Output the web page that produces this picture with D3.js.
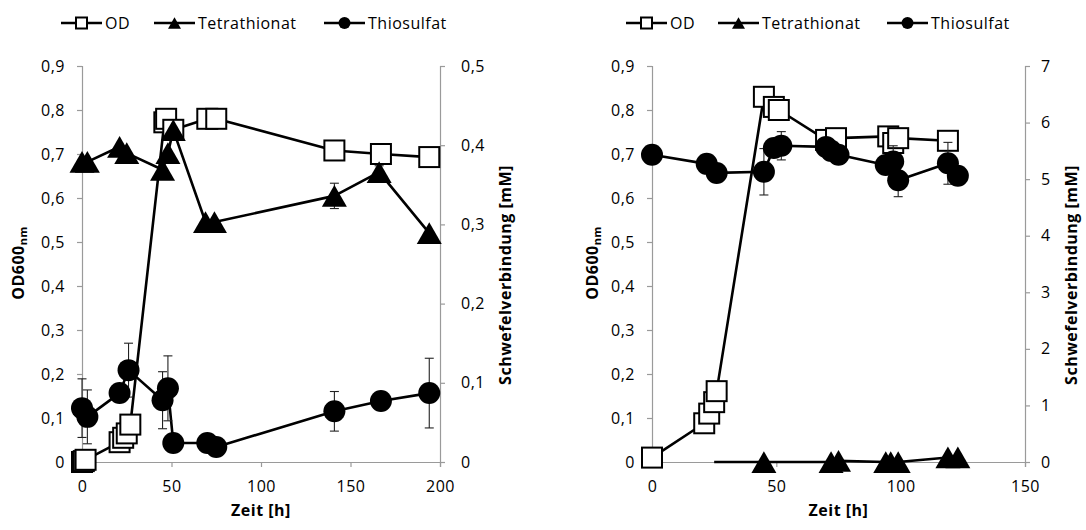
<!DOCTYPE html>
<html>
<head>
<meta charset="utf-8">
<script src="https://cdn.jsdelivr.net/npm/d3@7"></script>
<style>
  html, body { margin: 0; padding: 0; background: #fff; }
  svg { display: block; font-family: "Open Sans", sans-serif; }
</style>
</head>
<body>
<svg id="chart" width="1086" height="530"></svg>
<script>
// ---------------- DATA ----------------
const seriesNames = ["OD", "Tetrathionat", "Thiosulfat"];

// left panel
const xTicksLeft = [0, 50, 100, 150, 200];
const odTicks = [0, 0.1, 0.2, 0.3, 0.4, 0.5, 0.6, 0.7, 0.8, 0.9];
const mmTicksLeft = [0, 0.1, 0.2, 0.3, 0.4, 0.5];

const odLeftT = [0, 1, 2, 21, 23, 25, 27, 46, 47, 51, 70, 75, 141, 167, 194];
const odLeftV = [0.0, 0.002, 0.005, 0.045, 0.055, 0.065, 0.085, 0.772, 0.78, 0.755, 0.78, 0.78, 0.708, 0.70, 0.693];

const tetLeftT = [0, 3, 21, 25, 45, 48, 51, 69, 74, 141, 166, 194];
const tetLeftV = [0.379, 0.379, 0.398, 0.39, 0.369, 0.39, 0.419, 0.303, 0.303, 0.336, 0.366, 0.289];
const tetLeftE = [0, 0, 0, 0, 0, 0, 0, 0, 0, 0.016, 0.008, 0];

const thioLeftT = [0, 3, 21, 26, 45, 48, 51, 70, 75, 141, 167, 194];
const thioLeftV = [0.068, 0.057, 0.087, 0.116, 0.078, 0.093, 0.024, 0.024, 0.019, 0.064, 0.077, 0.087];
const thioLeftE = [0.037, 0.034, 0, 0.034, 0.036, 0.041, 0, 0, 0, 0.025, 0, 0.044];

// right panel
const xTicksRight = [0, 50, 100, 150];
const mmTicksRight = [0, 1, 2, 3, 4, 5, 6, 7];

const odRightT = [0, 21, 23, 25, 26, 45, 49, 51, 70, 74, 95, 97, 99, 119];
const odRightV = [0.01, 0.088, 0.11, 0.136, 0.161, 0.83, 0.807, 0.80, 0.732, 0.736, 0.74, 0.725, 0.736, 0.73];

const tetRightT = [25, 45, 72, 75, 94, 96, 99, 119, 123];
const tetRightV = [0, 0, 0, 0.02, 0, 0, 0, 0.08, 0.08];
const tetRightMarker = [false, true, true, true, true, true, true, true, true];

const thioRightT = [0, 22, 26, 45, 49, 52, 70, 72, 75, 94, 97, 99, 119, 123];
const thioRightV = [5.43, 5.27, 5.11, 5.13, 5.55, 5.59, 5.57, 5.5, 5.43, 5.25, 5.31, 4.98, 5.28, 5.06];
const thioRightE = [0, 0, 0, 0.41, 0, 0.25, 0, 0, 0, 0, 0.28, 0.29, 0.37, 0];

// ---------------- DRAW ----------------
const svg = d3.select("#chart");
const axisColor = "#9a9a9a";
const fmtComma = v => v === 0 ? "0" : d3.format(".1f")(v).replace(".", ",");

function zip(t, v, e, m) {
  return t.map((tt, i) => ({ t: tt, v: v[i], e: e ? e[i] : 0, m: m ? m[i] : true }));
}

function drawPanel(cfg) {
  const g = svg.append("g");
  const x = d3.scaleLinear().domain(cfg.xDomain).range([cfg.x0, cfg.x1]);
  const yL = d3.scaleLinear().domain([0, 0.9]).range([cfg.yBottom, cfg.yTop]);
  const yR = d3.scaleLinear().domain(cfg.rDomain).range([cfg.yBottom, cfg.yTop]);

  // axes
  const ax = g.append("g").attr("class", "axes");
  const xAxis = d3.axisBottom(x).tickValues(cfg.xTicks).tickSize(5).tickFormat(d3.format("d"));
  const gx = ax.append("g").attr("transform", `translate(0,${cfg.yBottom})`).call(xAxis);
  const lAxis = d3.axisLeft(yL).tickValues(odTicks).tickSize(5).tickFormat(fmtComma);
  const gl = ax.append("g").attr("transform", `translate(${cfg.x0},0)`).call(lAxis);
  const rAxis = d3.axisRight(yR).tickValues(cfg.rTicks).tickSize(5).tickFormat(cfg.rFormat);
  const gr = ax.append("g").attr("transform", `translate(${cfg.x1},0)`).call(rAxis);
  [gx, gl, gr].forEach(a => {
    a.select(".domain").attr("stroke", axisColor).attr("stroke-width", 1.2);
    a.selectAll(".tick line").attr("stroke", axisColor).attr("stroke-width", 1.2);
    a.selectAll(".tick text").attr("fill", "#000").style("font-size", "16px")
      .style("font-family", "'Open Sans', sans-serif").style("letter-spacing", "0.5px");
  });
  gx.selectAll(".tick text").attr("y", 19);
  gl.selectAll(".tick text").attr("x", -17);
  gr.selectAll(".tick text").attr("x", cfg.rLabelOffset);

  // axis titles
  const titleStyle = s => s.style("font-weight", "bold").style("font-size", "16px")
    .style("letter-spacing", "0.5px").attr("fill", "#000");
  g.append("text").attr("x", (cfg.x0 + cfg.x1) / 2).attr("y", 516)
    .attr("text-anchor", "middle").text("Zeit [h]").call(titleStyle);
  const lt = g.append("text").attr("text-anchor", "middle")
    .attr("transform", `translate(${cfg.leftTitleX},${cfg.titleY}) rotate(-90)`).call(titleStyle);
  lt.append("tspan").text("OD600");
  lt.append("tspan").text("nm").style("font-size", "11px").attr("dy", 3);
  g.append("text").attr("text-anchor", "middle")
    .attr("transform", `translate(${cfg.rightTitleX},${cfg.titleY + 12}) rotate(-90)`)
    .text("Schwefelverbindung [mM]").call(titleStyle);

  const line = y => d3.line().x(d => x(d.t)).y(d => y(d.v));
  const data = g.append("g").attr("class", "data");

  function series(pts, y, marker) {
    const sg = data.append("g");
    sg.append("path").datum(pts).attr("d", line(y)).attr("fill", "none")
      .attr("stroke", "#000").attr("stroke-width", 2.6).attr("stroke-linejoin", "round");
    const eb = pts.filter(d => d.e > 0);
    const ebg = sg.append("g").attr("stroke", "#222").attr("stroke-width", 1.1);
    ebg.selectAll(".ev").data(eb).join("line").attr("x1", d => x(d.t)).attr("x2", d => x(d.t))
      .attr("y1", d => y(d.v - d.e)).attr("y2", d => y(d.v + d.e));
    ebg.selectAll(".et").data(eb).join("line").attr("x1", d => x(d.t) - 4.5).attr("x2", d => x(d.t) + 4.5)
      .attr("y1", d => y(d.v + d.e)).attr("y2", d => y(d.v + d.e));
    ebg.selectAll(".eb").data(eb).join("line").attr("x1", d => x(d.t) - 4.5).attr("x2", d => x(d.t) + 4.5)
      .attr("y1", d => y(d.v - d.e)).attr("y2", d => y(d.v - d.e));
    marker(sg.selectAll(".mk").data(pts.filter(d => d.m)).join("g")
      .attr("transform", d => `translate(${x(d.t)},${y(d.v)})`));
  }
  series(zip(cfg.od[0], cfg.od[1]), yL, squareMarker(20));
  series(zip(cfg.tet[0], cfg.tet[1], cfg.tet[2], cfg.tet[3]), yR, triMarker(25));
  series(zip(cfg.thio[0], cfg.thio[1], cfg.thio[2]), yR, circMarker(11));

  // legend
  const lg = g.append("g").attr("transform", `translate(0,23)`);
  const markers = [squareMarker(11), triMarker(13), circMarker(6)];
  cfg.legendX.forEach((lx, i) => {
    const it = lg.append("g").attr("transform", `translate(${lx},0)`);
    it.append("line").attr("x1", 0).attr("x2", 41).attr("stroke", "#000").attr("stroke-width", 2.6);
    markers[i](it.append("g").attr("transform", "translate(20.5,0)"));
    it.append("text").attr("x", 44).attr("y", 6).style("font-size", "16px")
      .style("letter-spacing", "0.5px").text(seriesNames[i]);
  });
}

function squareMarker(s) {
  return sel => sel.append("rect").attr("x", -s / 2).attr("y", -s / 2).attr("width", s).attr("height", s)
    .attr("fill", "#fff").attr("stroke", "#000").attr("stroke-width", 2);
}
function triMarker(s) {
  const h = s * 0.87;
  return sel => sel.append("path")
    .attr("d", `M0,${-h / 2}L${s / 2},${h / 2}L${-s / 2},${h / 2}Z`).attr("fill", "#000");
}
function circMarker(r) {
  return sel => sel.append("circle").attr("r", r).attr("fill", "#000");
}

drawPanel({
  xDomain: [0, 200], xTicks: xTicksLeft, x0: 82, x1: 440, yTop: 66, yBottom: 462,
  rDomain: [0, 0.5], rTicks: mmTicksLeft, rFormat: fmtComma, rLabelOffset: 21,
  leftTitleX: 24, rightTitleX: 511, titleY: 263,
  od: [odLeftT, odLeftV], tet: [tetLeftT, tetLeftV, tetLeftE], thio: [thioLeftT, thioLeftV, thioLeftE],
  legendX: [61, 154, 324]
});
drawPanel({
  xDomain: [0, 150], xTicks: xTicksRight, x0: 652, x1: 1025, yTop: 66, yBottom: 462,
  rDomain: [0, 7], rTicks: mmTicksRight, rFormat: d3.format("d"), rLabelOffset: 16,
  leftTitleX: 598, rightTitleX: 1077, titleY: 263,
  od: [odRightT, odRightV], tet: [tetRightT, tetRightV, null, tetRightMarker], thio: [thioRightT, thioRightV, thioRightE],
  legendX: [626, 718, 887]
});
</script>
</body>
</html>
